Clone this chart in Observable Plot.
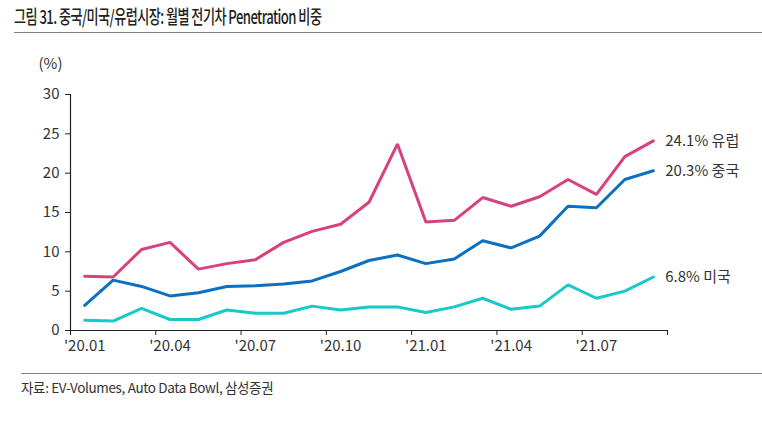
<!DOCTYPE html>
<html>
<head>
<meta charset="utf-8">
<script src="https://cdn.jsdelivr.net/npm/d3@7"></script>
<script src="https://cdn.jsdelivr.net/npm/@observablehq/plot@0.6"></script>
<style>
  html, body { margin: 0; padding: 0; background: #fff; }
  #wrap { position: relative; width: 762px; height: 422px; overflow: hidden; font-family: "Noto Sans CJK KR", "Noto Sans", sans-serif; color: #333; }
  #title { position: absolute; left: 14px; top: 3px; font-size: 19px; line-height: 26px; font-weight: 500; color: #222; white-space: nowrap; letter-spacing: -0.8px; transform: scaleX(0.69); transform-origin: 0 50%; }
  #rule1 { position: absolute; left: 14px; right: 0; top: 32px; border-top: 1.5px solid #808080; }
  #chart { position: absolute; left: 0; top: 40px; }
  #rule2 { position: absolute; left: 21px; right: 0; top: 373px; border-top: 1.5px solid #808080; }
  #source { position: absolute; left: 21px; top: 377px; font-size: 13.5px; line-height: 20px; color: #333; white-space: nowrap; letter-spacing: -0.35px; }
</style>
</head>
<body>
<div id="wrap">
  <div id="title">그림 31. 중국/미국/유럽시장: 월별 전기차 Penetration 비중</div>
  <div id="rule1"></div>
  <div id="chart"></div>
  <div id="rule2"></div>
  <div id="source">자료: EV-Volumes, Auto Data Bowl, 삼성증권</div>
</div>
<script>
const months = ["'20.01","'20.02","'20.03","'20.04","'20.05","'20.06","'20.07","'20.08","'20.09","'20.10","'20.11","'20.12",
                "'21.01","'21.02","'21.03","'21.04","'21.05","'21.06","'21.07","'21.08","'21.09"];
const europe = [6.9, 6.8, 10.3, 11.2, 7.8, 8.5, 9.0, 11.2, 12.6, 13.5, 16.3, 23.7, 13.8, 14.0, 16.9, 15.8, 17.0, 19.2, 17.3, 22.1, 24.1];
const china  = [3.2, 6.4, 5.6, 4.4, 4.8, 5.6, 5.7, 5.9, 6.3, 7.5, 8.9, 9.6, 8.5, 9.1, 11.4, 10.5, 12.0, 15.8, 15.6, 19.2, 20.3];
const usa    = [1.3, 1.2, 2.8, 1.4, 1.4, 2.6, 2.2, 2.2, 3.1, 2.6, 3.0, 3.0, 2.3, 3.0, 4.1, 2.7, 3.1, 5.8, 4.1, 5.0, 6.8];
const seriesNames = ["유럽", "중국", "미국"];
const seriesValues = [europe, china, usa];
const seriesColors = ["#d7417f", "#0b70c2", "#19c8c8"];
const tickLabels = ["'20.01","'20.04","'20.07","'20.10","'21.01","'21.04","'21.07"];
const yTicks = [0, 5, 10, 15, 20, 25, 30];

const data = [];
seriesNames.forEach((name, s) => {
  seriesValues[s].forEach((v, i) => data.push({series: name, i, month: months[i], value: v}));
});
const ends = seriesNames.map((name, s) => {
  const vals = seriesValues[s];
  const v = vals[vals.length - 1];
  return {series: name, i: vals.length - 1, value: v, label: `${v.toFixed(1)}% ${name}`};
});
const labelIdx = tickLabels.map(t => months.indexOf(t));
const edgeTicks = d3.range(-0.5, months.length, 3).concat([months.length - 0.5]);

const chart = Plot.plot({
  width: 762,
  height: 330,
  marginLeft: 70,
  marginRight: 95,
  marginTop: 54,
  marginBottom: 40,
  style: {fontFamily: "'Noto Sans CJK KR', 'Noto Sans', sans-serif", fontSize: "15px", color: "#333", background: "transparent"},
  x: {type: "linear", domain: [-0.5, months.length - 0.5]},
  y: {domain: [0, 30]},
  color: {domain: seriesNames, range: seriesColors},
  marks: [
    Plot.axisY({ticks: yTicks, tickSize: 5, tickPadding: 6, label: null, fontSize: 15, stroke: "#222"}),
    Plot.axisX({ticks: edgeTicks, tickSize: 5, tickFormat: () => "", label: null, stroke: "#222"}),
    Plot.axisX({ticks: labelIdx, tickSize: 0, tickPadding: 10, tickFormat: i => months[i], label: null, fontSize: 15}),
    Plot.ruleY([0], {stroke: "#222", strokeWidth: 1.2}),
    Plot.ruleX([-0.5], {stroke: "#222", strokeWidth: 1.2}),
    Plot.text(["(%)"], {frameAnchor: "top-left", dx: -32, dy: -36, fontSize: 15, fill: "#333"}),
    Plot.line(data, {x: "i", y: "value", z: "series", stroke: "series", strokeWidth: 3, strokeLinejoin: "miter"}),
    Plot.text(ends, {x: "i", y: "value", text: "label", textAnchor: "start", dx: 12, fontSize: 15, fill: "#333"})
  ]
});
document.getElementById("chart").appendChild(chart);
</script>
</body>
</html>
